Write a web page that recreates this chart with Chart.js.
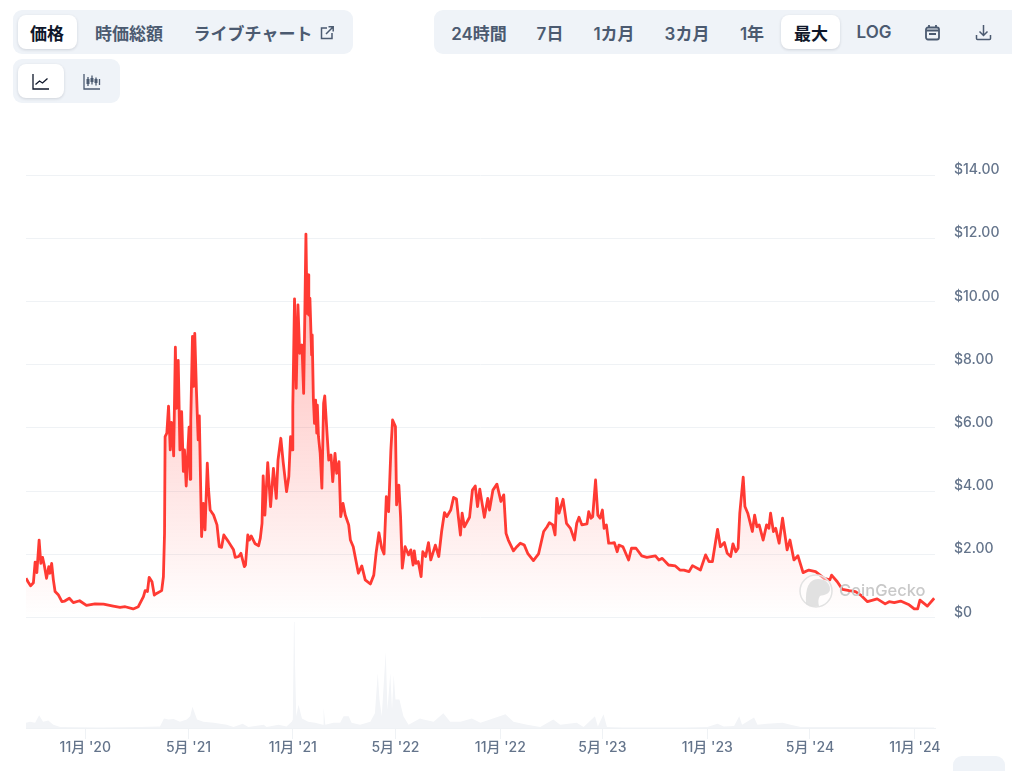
<!DOCTYPE html>
<html lang="ja">
<head>
<meta charset="utf-8">
<title>価格チャート</title>
<script src="https://cdn.jsdelivr.net/npm/chart.js@4"></script>
<style>
    html, body { margin: 0; padding: 0; background: #fff; }
    body { width: 1024px; height: 771px; position: relative; overflow: hidden; font-family: Inter, "Noto Sans CJK JP", sans-serif; }
    #priceChart { position: absolute; left: 0; top: 0; }
    .group { position: absolute; background: #eff3f8; border-radius: 9px; }
    .pill { position: absolute; background: #fff; border-radius: 8px; box-shadow: 0 1px 3px rgba(15, 23, 42, 0.14); }
    .btn { position: absolute; top: 32px; transform: translate(-50%, -50%); font-size: 17px; font-weight: 600; color: #4b5a70; white-space: nowrap; }
    .btn.on { color: #0f172a; }
    .icon { position: absolute; }
    #mark { position: absolute; left: 799px; top: 574px; width: 130px; height: 34px; }
    #mark span { position: absolute; left: 40px; top: 6px; font-size: 16.5px; font-weight: 500; color: #c9c9c9; }
</style>
</head>
<body>
<canvas id="priceChart" width="1024" height="771"></canvas>

<div class="group" style="left:13px;top:10px;width:340px;height:44px"></div>
<div class="pill" style="left:18px;top:15px;width:59px;height:34px"></div>
<div class="btn on" style="left:47px">価格</div>
<div class="btn" style="left:129px">時価総額</div>
<div class="btn" style="left:253px">ライブチャート</div>
<svg class="icon" style="left:319px;top:25px" width="16" height="16" viewBox="0 0 16 16" fill="none" stroke="#4b5a70" stroke-width="1.5">
    <path d="M8 3H2.5v10.5H13V8M7 9l7-7M9.5 1.8h4.7v4.7"/>
</svg>

<div class="group" style="left:434px;top:10px;width:578px;height:44px;border-radius:9px 0 0 9px"></div>
<div class="pill" style="left:781px;top:15px;width:59px;height:34px"></div>
<div class="btn" style="left:479px">24時間</div>
<div class="btn" style="left:550px">7日</div>
<div class="btn" style="left:614px">1カ月</div>
<div class="btn" style="left:687px">3カ月</div>
<div class="btn" style="left:752px">1年</div>
<div class="btn on" style="left:811px">最大</div>
<div class="btn" style="left:874px">LOG</div>
<svg class="icon" style="left:924px;top:24px" width="17" height="17" viewBox="0 0 17 17" fill="none" stroke="#4b5a70" stroke-width="1.8">
    <rect x="2" y="3.5" width="13" height="12" rx="2"/><path d="M5 1v3M12 1v3M2.5 6.5h12" /><path d="M5 10h7" stroke-width="2"/>
</svg>
<svg class="icon" style="left:975px;top:24px" width="17" height="17" viewBox="0 0 17 17" fill="none" stroke="#4b5a70" stroke-width="1.5">
    <path d="M8.5 1v10M4.5 7.5l4 4 4-4M1.5 11v3.5a1 1 0 0 0 1 1h12a1 1 0 0 0 1-1V11"/>
</svg>

<div class="group" style="left:13px;top:59px;width:107px;height:44px"></div>
<div class="pill" style="left:18px;top:64px;width:46px;height:34px"></div>
<svg class="icon" style="left:32px;top:74px" width="18" height="16" viewBox="0 0 18 16" fill="none" stroke="#0f172a" stroke-width="1.3">
    <path d="M1 0v15h16M3.5 10.5l4-3.5 3 2 5-4.5"/>
</svg>
<svg class="icon" style="left:83px;top:74px" width="18" height="16" viewBox="0 0 18 16" fill="none" stroke="#4b5a70" stroke-width="1.3">
    <path d="M1 0v15h16M5 3v9M9 1.5v9M13 3.5v8M16.5 5v6"/><path d="M5 5v5M9 4v4M13 5v4" stroke-width="3"/>
</svg>

<div class="group" style="left:953px;top:756px;width:52px;height:30px"></div>

<div id="mark">
    <svg width="36" height="34" viewBox="0 0 36 34">
        <circle cx="17" cy="17" r="16" fill="#fff" fill-opacity="0.45" stroke="#e2e2e2" stroke-width="1.5"/>
        <path d="M7 30C6 14 10 5 19 5c7 0 12 4 12 10 0 5-6 6-10 7-2 3-2 6-1 10-5 1-9 0-13-2z" fill="#dcdcdc" fill-opacity="0.85"/>
    </svg>
    <span>CoinGecko</span>
</div>

<script>
// x is days since the start of the chart
const priceDays = [
    0, 3.5, 8, 13, 16, 19, 23, 26, 29, 32, 36, 40, 42, 45, 48, 51, 57, 63, 68, 76, 83, 94, 106, 121, 136, 153, 165, 174, 188, 197,
    206, 209, 213, 216, 221, 225, 229, 238, 241, 243, 244, 247, 250, 253, 255, 257, 259, 262, 264, 267, 270, 273, 276, 278, 281, 284, 286, 288, 289, 292,
    294, 296, 299, 302, 304, 306, 308, 311, 314, 318, 320, 323, 329, 335, 339, 343, 347, 355, 364, 367, 373, 377, 383, 385, 389, 392, 395, 402, 408, 411,
    414, 416, 419, 424, 429, 434, 439, 442, 447, 451, 457, 461, 464, 467, 468, 471, 474, 477, 480, 484, 487, 489, 491, 493, 495, 496, 498, 501, 502, 504,
    506, 508, 510, 511, 513, 516, 519, 522, 524, 528, 531, 535, 538, 542, 545, 549, 552, 556, 560, 566, 569, 574, 583, 589, 595, 604, 610, 614, 619, 624,
    628, 632, 636, 640, 643, 648, 650, 654, 657, 660, 665, 671, 675, 679, 681, 684, 688, 693, 696, 701, 706, 710, 718, 724, 729, 734, 738, 745, 750, 755,
    758, 762, 765, 769, 778, 783, 788, 792, 796, 800, 804, 810, 813, 819, 826, 833, 838, 842, 846, 855, 861, 867, 874, 880, 890, 899, 908, 914, 918, 924,
    928, 931, 935, 942, 948, 955, 962, 966, 970, 975, 984, 987, 991, 994, 999, 1003, 1007, 1011, 1014, 1018, 1022, 1028, 1032, 1037, 1040, 1047, 1057, 1062, 1070, 1080,
    1089, 1104, 1110, 1116, 1127, 1139, 1147, 1154, 1163, 1169, 1183, 1192, 1198, 1204, 1213, 1218, 1225, 1230, 1236, 1240, 1245, 1249, 1252, 1258, 1261, 1266, 1274, 1278, 1282, 1286,
    1293, 1299, 1303, 1306, 1311, 1315, 1321, 1327, 1335, 1340, 1347, 1354, 1363, 1373, 1385, 1400, 1410, 1413, 1423, 1432, 1444, 1455, 1464, 1476, 1493, 1507, 1514, 1523, 1534, 1549,
    1558, 1564, 1568, 1581, 1593
];
const priceValues = [
    1.24, 1.13, 1.00, 1.10, 1.75, 1.42, 2.45, 1.71, 1.90, 1.66, 1.24, 1.61, 1.40, 1.71, 1.19, 0.82, 0.71, 0.50, 0.52, 0.61, 0.47, 0.53, 0.38, 0.43, 0.42, 0.36, 0.32, 0.34, 0.27, 0.34,
    0.66, 0.85, 0.82, 1.27, 1.13, 0.71, 0.76, 0.85, 1.29, 2.66, 5.72, 5.83, 6.69, 5.30, 6.17, 5.83, 5.11, 8.55, 6.62, 8.13, 5.30, 6.51, 4.62, 5.30, 4.16, 5.30, 6.02, 4.37, 6.25, 8.89,
    7.31, 8.99, 7.15, 5.62, 6.38, 4.46, 2.56, 3.61, 2.77, 4.88, 4.09, 3.40, 3.24, 2.93, 2.24, 2.22, 2.61, 2.40, 2.14, 1.90, 1.93, 2.03, 1.61, 1.66, 2.61, 2.45, 2.58, 2.33, 2.27, 2.51,
    2.98, 4.48, 3.24, 4.90, 3.51, 4.72, 3.77, 4.98, 5.67, 4.93, 3.98, 4.46, 5.72, 5.30, 6.67, 10.08, 7.25, 9.89, 8.36, 8.62, 7.09, 9.52, 12.13, 9.62, 10.84, 9.57, 10.10, 8.31, 8.94, 6.94,
    6.14, 6.88, 5.83, 6.72, 5.72, 5.19, 4.09, 6.78, 7.01, 5.83, 4.98, 5.14, 4.30, 5.19, 4.56, 4.93, 3.19, 3.61, 3.24, 2.93, 2.45, 2.24, 1.40, 1.63, 1.19, 1.06, 1.34, 2.03, 2.68, 2.19,
    2.01, 3.82, 3.35, 5.30, 6.25, 6.04, 3.56, 4.19, 3.19, 1.56, 2.24, 1.98, 2.14, 1.66, 2.11, 1.71, 1.77, 1.29, 2.08, 1.93, 2.37, 1.82, 2.29, 1.93, 2.72, 3.32, 3.19, 3.40, 3.80, 3.75,
    3.24, 2.61, 3.30, 2.87, 3.17, 4.03, 4.16, 3.51, 4.06, 3.61, 3.17, 3.77, 3.40, 4.03, 4.22, 3.67, 3.88, 2.66, 2.45, 2.11, 2.24, 2.35, 2.29, 2.03, 1.80, 2.01, 2.72, 2.87, 3.00, 2.93,
    2.61, 3.77, 3.30, 3.74, 2.98, 2.82, 2.45, 2.98, 3.17, 2.93, 2.96, 3.35, 3.14, 3.19, 4.35, 3.24, 3.14, 3.40, 2.82, 2.93, 2.35, 2.35, 2.37, 2.08, 2.29, 2.24, 1.82, 2.19, 2.19, 1.95,
    1.90, 1.95, 1.82, 1.87, 1.66, 1.63, 1.50, 1.50, 1.45, 1.64, 1.50, 1.98, 1.77, 1.77, 2.79, 2.24, 2.37, 2.03, 1.93, 2.33, 2.08, 2.19, 3.30, 4.44, 3.51, 3.30, 2.72, 3.24, 2.87, 2.93,
    2.45, 2.93, 2.82, 3.30, 2.72, 2.82, 2.35, 3.14, 2.14, 2.45, 1.82, 1.95, 1.42, 1.50, 1.45, 1.24, 1.19, 1.34, 1.13, 0.89, 0.85, 0.82, 0.71, 0.50, 0.59, 0.43, 0.50, 0.47, 0.52, 0.40,
    0.27, 0.27, 0.55, 0.36, 0.61
];

// volume, relative to the biggest day
const volumeDays = [
    0, 7, 16, 23, 30, 39, 48, 60, 130, 200, 235, 242, 250, 259, 270, 282, 288, 292, 300, 311, 329, 352, 364, 380, 390, 417, 422, 443, 457, 466,
    468, 470, 471, 472, 474, 478, 484, 495, 507, 521, 522, 525, 539, 551, 557, 566, 571, 586, 604, 612, 617, 620, 624, 631, 634, 639, 642, 645, 648, 655, 662,
    671, 691, 697, 715, 732, 744, 762, 782, 797, 814, 841, 855, 879, 902, 925, 937, 966, 978, 998, 1003, 1013, 1019, 1048, 1154, 1195, 1213, 1224, 1242, 1251, 1256,
    1277, 1283, 1300, 1327, 1341, 1359, 1435, 1505, 1593
];
const volumeValues = [
    0.05, 0.06, 0.05, 0.12, 0.06, 0.07, 0.03, 0.01, 0.005, 0.01, 0.015, 0.09, 0.08, 0.085, 0.06, 0.08, 0.11, 0.20, 0.08, 0.06, 0.05, 0.03, 0.01, 0.04, 0.01, 0.03, 0.01, 0.03, 0.015, 0.06,
    0.08, 1.00, 1.00, 0.58, 0.11, 0.22, 0.09, 0.06, 0.05, 0.03, 0.19, 0.03, 0.05, 0.05, 0.11, 0.11, 0.05, 0.03, 0.06, 0.14, 0.52, 0.27, 0.11, 0.72, 0.17, 0.52, 0.17, 0.50, 0.27, 0.27, 0.11,
    0.03, 0.09, 0.08, 0.06, 0.14, 0.06, 0.06, 0.09, 0.05, 0.08, 0.13, 0.06, 0.03, 0.01, 0.08, 0.03, 0.05, 0.01, 0.11, 0.015, 0.13, 0.01, 0.005, 0.005, 0.01, 0.04, 0.015, 0.02, 0.11, 0.03,
    0.10, 0.03, 0.04, 0.05, 0.03, 0.01, 0.01, 0.01, 0.005
];

const priceTicks = [0, 2, 4, 6, 8, 10, 12, 14];
const dateTicks = [104, 285, 468, 648, 832, 1011, 1195, 1375, 1559];
const dateLabels = ["11月 '20", "5月 '21", "11月 '21", "5月 '22", "11月 '22", "5月 '23", "11月 '23", "5月 '24", "11月 '24"];

const tickFont = { family: 'Inter, "Noto Sans CJK JP", sans-serif', size: 14, weight: '500' };
const tickColor = '#64748b';
const lineColor = '#ff3a33';
const gridColor = '#eff2f5';

function pairs(xs, ys) {
    return xs.map((x, i) => ({ x: x, y: ys[i] }));
}

function priceFill(context) {
    const chart = context.chart;
    if (!chart.chartArea) return 'transparent';
    const y = chart.scales.y;
    const gradient = chart.ctx.createLinearGradient(0, y.getPixelForValue(12), 0, y.getPixelForValue(0));
    gradient.addColorStop(0, 'rgba(255, 58, 51, 0.38)');
    gradient.addColorStop(1, 'rgba(255, 58, 51, 0)');
    return gradient;
}

new Chart(document.getElementById('priceChart').getContext('2d'), {
    type: 'line',
    data: {
        datasets: [{
            label: '価格',
            data: pairs(priceDays, priceValues),
            yAxisID: 'y',
            borderColor: lineColor,
            borderWidth: 2.8,
            borderJoinStyle: 'round',
            backgroundColor: priceFill,
            fill: { value: 0 },
            pointRadius: 0,
            tension: 0,
            order: 1
        }, {
            label: '出来高',
            data: pairs(volumeDays, volumeValues),
            yAxisID: 'yVol',
            borderWidth: 0,
            backgroundColor: '#f2f4f7',
            fill: 'origin',
            pointRadius: 0,
            tension: 0,
            order: 2
        }]
    },
    options: {
        responsive: false,
        animation: false,
        layout: { padding: { left: 26, top: 175 } },
        plugins: { legend: { display: false }, tooltip: { enabled: false } },
        scales: {
            x: {
                type: 'linear',
                min: 0,
                max: 1594.4,
                afterBuildTicks: scale => { scale.ticks = dateTicks.map(v => ({ value: v })); },
                afterFit: scale => { scale.height = 43; },
                ticks: {
                    autoSkip: false,
                    maxRotation: 0,
                    padding: 0,
                    font: tickFont,
                    color: tickColor,
                    callback: value => dateLabels[dateTicks.indexOf(value)]
                },
                grid: { drawOnChartArea: false, drawTicks: true, tickLength: 11, color: gridColor },
                border: { display: true, color: gridColor }
            },
            y: {
                position: 'right',
                min: -3.497,
                max: 14,
                afterBuildTicks: scale => { scale.ticks = priceTicks.map(v => ({ value: v })); },
                afterFit: scale => { scale.width = 89; },
                ticks: {
                    autoSkip: false,
                    padding: 19,
                    labelOffset: -5,
                    font: tickFont,
                    color: tickColor,
                    callback: value => value === 0 ? '$0' : '$' + value.toFixed(2)
                },
                grid: { drawTicks: false, color: gridColor },
                border: { display: false }
            },
            yVol: {
                display: false,
                min: 0,
                max: 5.22
            }
        }
    }
});
</script>
</body>
</html>
